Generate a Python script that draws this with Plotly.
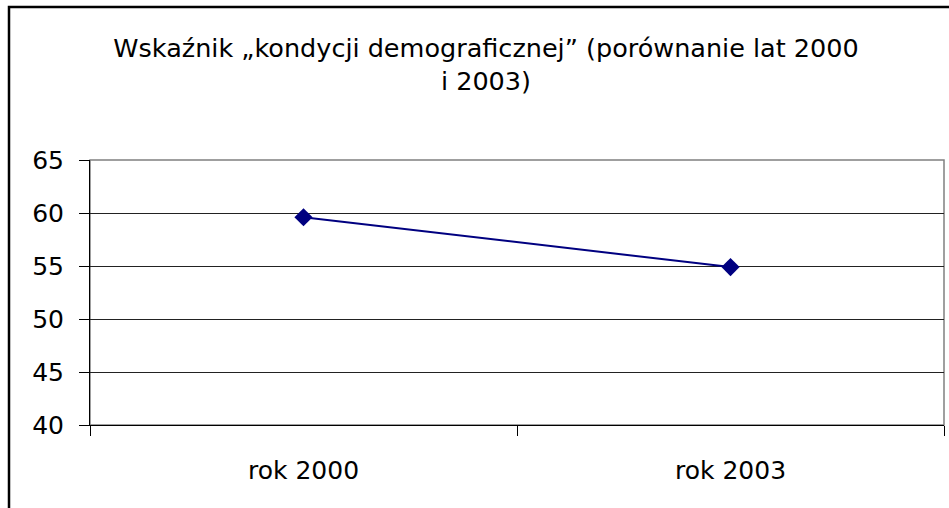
import plotly.graph_objects as go

categories = ["rok 2000", "rok 2003"]
values = [59.6, 54.9]
y_ticks = [40, 45, 50, 55, 60, 65]

W, H = 949, 508
L, R, T, B = 90, 5, 160, 83
pw, ph = W - L - R, H - T - B

fig = go.Figure()
fig.add_trace(go.Scatter(
    x=categories, y=values, mode="lines+markers",
    line=dict(color="#000080", width=2),
    marker=dict(symbol="diamond", size=14, color="#000080"),
    showlegend=False,
))

font = "DejaVu Sans"
fig.update_layout(
    width=W, height=H,
    margin=dict(l=L, r=R, t=T, b=B),
    paper_bgcolor="white", plot_bgcolor="white",
    title=dict(
        text="Wskaźnik „kondycji demograficznej” (porównanie lat 2000<br>i 2003)",
        x=486 / W, xanchor="center", xref="container", y=1 - 57 / H, yanchor="middle",
        font=dict(family=font, size=25.5, color="black"),
    ),
    xaxis=dict(
        type="category", range=[-0.5, 1.5], tickson="boundaries",
        ticks="outside", ticklen=10, tickcolor="black",
        showline=True, linecolor="black", linewidth=1, mirror=False,
        showgrid=False, zeroline=False, ticklabelstandoff=23,
        tickfont=dict(family=font, size=25, color="black"),
    ),
    yaxis=dict(
        range=[40, 65], tickvals=y_ticks, ticks="outside", ticklen=10, tickcolor="black",
        showline=True, linecolor="black", linewidth=1, ticklabelstandoff=10,
        showgrid=True, gridcolor="#222222", gridwidth=1, zeroline=False,
        tickfont=dict(family=font, size=25, color="black"),
    ),
)
# plot area border (gray)
fig.add_shape(type="rect", xref="paper", yref="paper", x0=0, x1=1, y0=0, y1=1,
              line=dict(color="#808080", width=1.5), layer="below")
# outer chart border (left and top visible)
fig.add_shape(type="rect", xref="paper", yref="paper",
              x0=(9 - L) / pw, x1=(W + 20 - L) / pw,
              y0=-(B + 20) / ph, y1=(ph + T - 7) / ph,
              line=dict(color="black", width=2.5))
fig.write_html("out.html", config={"displayModeBar": False},
               post_script="document.body.style.margin='0';document.body.style.overflow='hidden';")
